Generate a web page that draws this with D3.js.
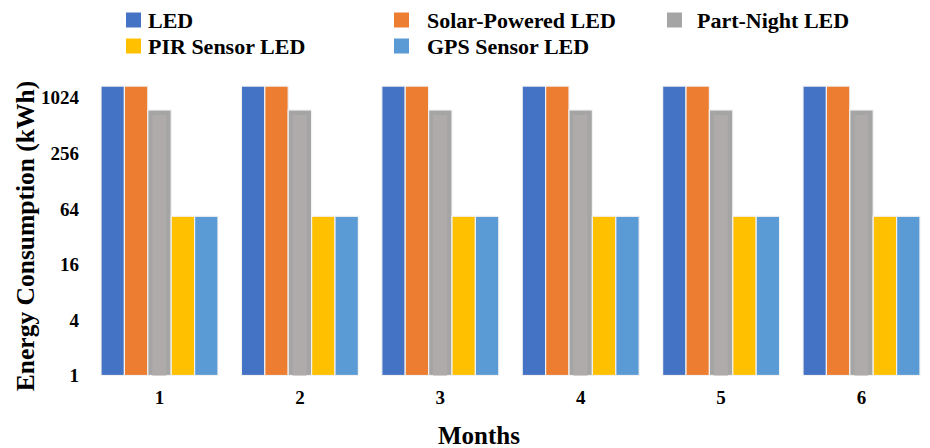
<!DOCTYPE html>
<html>
<head>
<meta charset="utf-8">
<script src="https://cdn.jsdelivr.net/npm/d3@7/dist/d3.min.js"></script>
<style>
  html, body { margin: 0; padding: 0; background: #fff; }
  svg { display: block; }
  text { font-family: "Liberation Serif", "DejaVu Serif", serif; fill: #000; }
</style>
</head>
<body>
<svg id="chart" width="930" height="448"></svg>
<script>
// Monthly energy use per lighting technology (kWh, log2 axis)
const months = ["1", "2", "3", "4", "5", "6"];
const seriesNames = ["LED", "Solar-Powered LED", "Part-Night LED", "PIR Sensor LED", "GPS Sensor LED"];
const ledValues        = [1360, 1360, 1360, 1360, 1360, 1360];
const solarLedValues   = [1360, 1360, 1360, 1360, 1360, 1360];
const partNightValues  = [750, 750, 750, 750, 750, 750];
const pirSensorValues  = [53, 53, 53, 53, 53, 53];
const gpsSensorValues  = [53, 53, 53, 53, 53, 53];
const yTickValues = [1, 4, 16, 64, 256, 1024];
const seriesColors = ["#4472C4", "#ED7D31", "#A5A5A5", "#FFC000", "#5B9BD5"];

const seriesValues = [ledValues, solarLedValues, partNightValues, pirSensorValues, gpsSensorValues];
const rows = months.map((m, i) => ({
  month: m,
  values: seriesNames.map((s, k) => ({ series: s, k, value: seriesValues[k][i] }))
}));

const svg = d3.select("#chart");

const x0 = d3.scaleBand().domain(months).range([89.3, 931.7]).paddingInner(0.167).paddingOuter(0.0835);
const x1 = d3.scaleBand().domain(seriesNames).range([0, x0.bandwidth()]);
const y = d3.scaleLog().base(2).domain([1, 1024]).range([375.5, 97.5]);
const color = d3.scaleOrdinal().domain(seriesNames).range(seriesColors);

// Bars
const groups = svg.append("g").selectAll("g").data(rows).join("g")
  .attr("transform", d => `translate(${x0(d.month)},0)`);

groups.selectAll("rect.bar").data(d => d.values).join("rect")
  .attr("class", "bar")
  .attr("x", d => x1(d.series))
  .attr("y", d => y(d.value))
  .attr("width", x1.bandwidth())
  .attr("height", d => y(1) - y(d.value))
  .attr("fill", d => color(d.series))
  .attr("stroke", "#f2f2f2")
  .attr("stroke-width", 1.2);

// Inner sheen on the part-night bars
groups.selectAll("rect.sheen").data(d => d.values.filter(v => v.series === "Part-Night LED")).join("rect")
  .attr("class", "sheen")
  .attr("x", d => x1(d.series) + 4.5)
  .attr("y", d => y(d.value) + 5)
  .attr("width", x1.bandwidth() - 9.5)
  .attr("height", d => y(1) - y(d.value) - 5)
  .attr("fill", "#AEABAA");

// Y axis (labels only)
const yAxis = d3.axisLeft(y).tickValues(yTickValues).tickFormat(d3.format("d")).tickSize(0).tickPadding(0);
const yg = svg.append("g").attr("transform", "translate(79,0)").call(yAxis);
yg.select(".domain").remove();
yg.selectAll("text")
  .attr("font-family", "Liberation Serif, serif")
  .attr("font-size", 19).attr("font-weight", "bold").attr("fill", "#000")
  .attr("dy", "0.34em");

// X axis (labels only)
const xAxis = d3.axisBottom(x0).tickSize(0).tickPadding(0);
const xg = svg.append("g").attr("transform", "translate(0,389)").call(xAxis);
xg.select(".domain").remove();
xg.selectAll("text")
  .attr("font-family", "Liberation Serif, serif")
  .attr("font-size", 19).attr("font-weight", "bold").attr("fill", "#000")
  .attr("dy", "0.8em");

// Axis titles
svg.append("text")
  .attr("transform", "translate(34,236) rotate(-90)")
  .attr("text-anchor", "middle")
  .attr("font-size", 25.5).attr("font-weight", "bold")
  .text("Energy Consumption (kWh)");

svg.append("text")
  .attr("x", 479).attr("y", 444)
  .attr("text-anchor", "middle")
  .attr("font-size", 25).attr("font-weight", "bold")
  .text("Months");

// Legend
const legendPos = [
  { sx: 126, tx: 148, y: 20 },
  { sx: 394, tx: 427, y: 20 },
  { sx: 667, tx: 697, y: 20 },
  { sx: 126, tx: 148, y: 46 },
  { sx: 394, tx: 427, y: 46 }
];
const legend = svg.append("g").selectAll("g").data(seriesNames).join("g");
legend.append("rect")
  .attr("x", (d, i) => legendPos[i].sx)
  .attr("y", (d, i) => legendPos[i].y - 7.5)
  .attr("width", 15).attr("height", 15)
  .attr("fill", d => color(d));
legend.append("text")
  .attr("x", (d, i) => legendPos[i].tx)
  .attr("y", (d, i) => legendPos[i].y)
  .attr("dy", "0.35em")
  .attr("font-size", 22).attr("font-weight", "bold")
  .text(d => d);
</script>
</body>
</html>
